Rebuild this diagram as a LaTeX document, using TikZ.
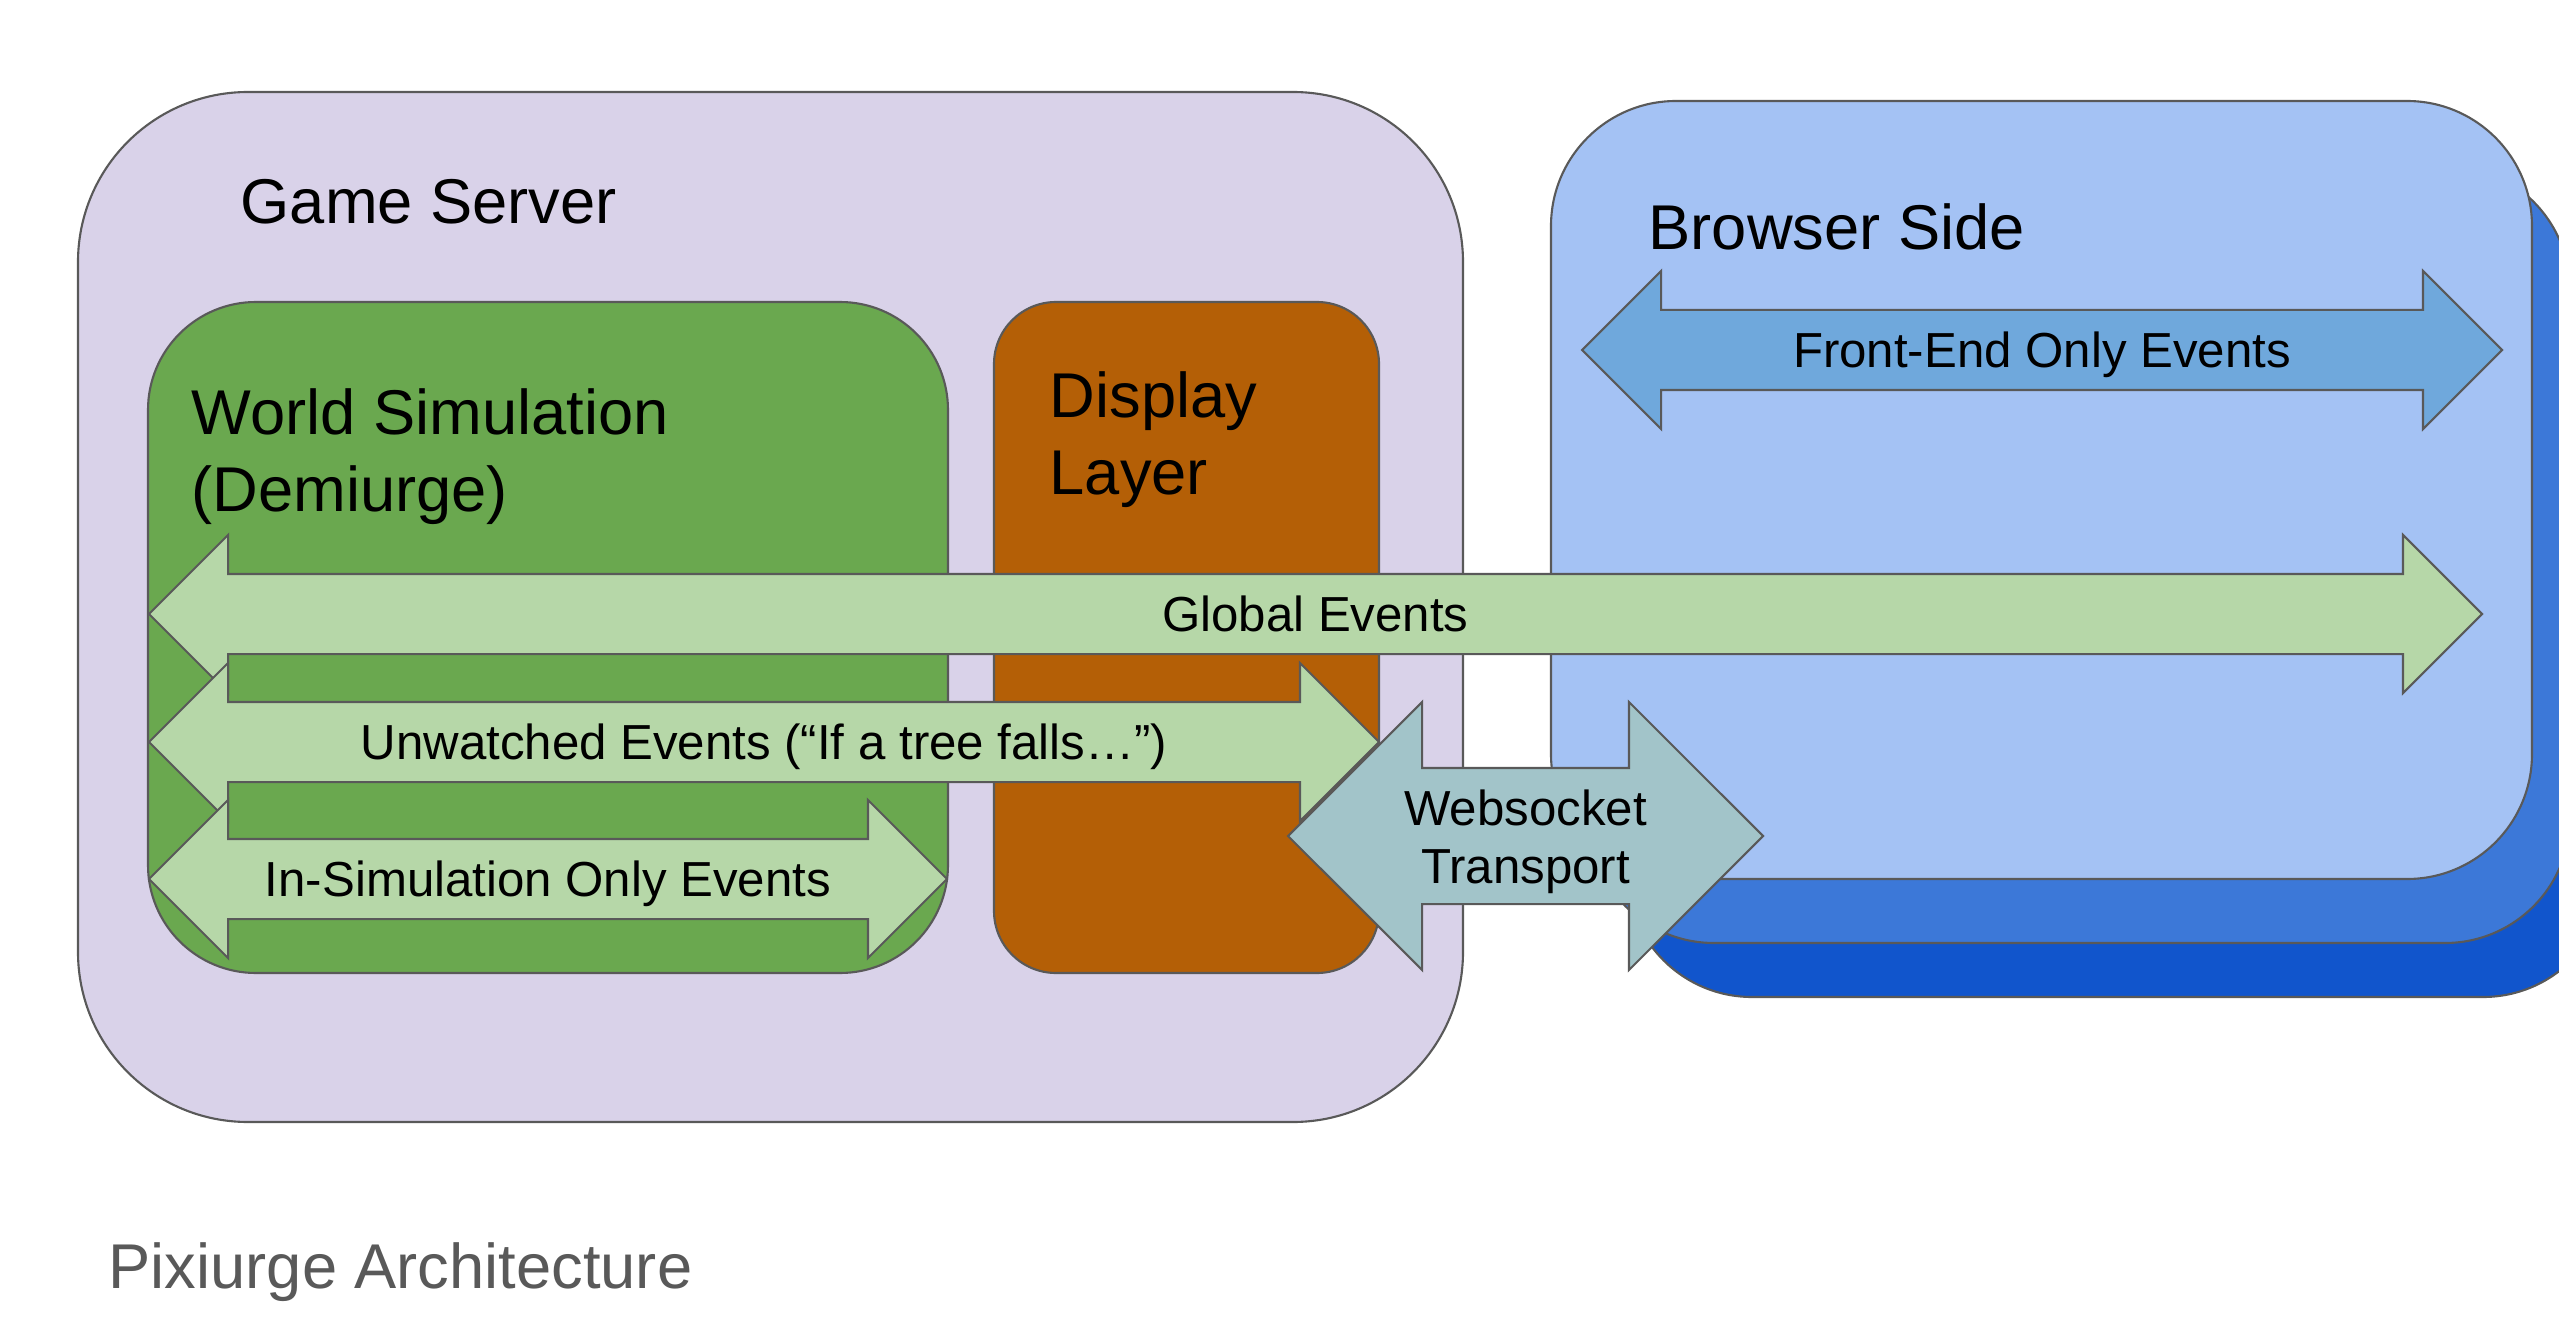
\documentclass[tikz,border=0pt]{standalone}
\usepackage{fontspec}
\setmainfont{Liberation Sans}
\usetikzlibrary{shapes.arrows,positioning}

\definecolor{serverfill}{HTML}{D9D2E9}
\definecolor{simfill}{HTML}{6AA84F}
\definecolor{displayfill}{HTML}{B45F06}
\definecolor{browserfill}{HTML}{A4C2F4}
\definecolor{browsermid}{HTML}{3C78D8}
\definecolor{browserdark}{HTML}{1155CC}
\definecolor{eventfill}{HTML}{B6D7A8}
\definecolor{frontfill}{HTML}{6FA8DC}
\definecolor{socketfill}{HTML}{A2C4C9}
\definecolor{edgegray}{HTML}{595959}

\begin{document}
\begin{tikzpicture}[
    panel/.style={draw=edgegray, line width=0.6pt, rectangle, inner sep=0pt},
    evtext/.style={font=\fontsize{14}{16.5}\selectfont},
    evarrow/.style={draw=edgegray, line width=0.6pt, double arrow, double arrow tip angle=90,
        double arrow head extend=0.39cm, inner xsep=0pt, inner ysep=0.39cm-5pt,
        text height=10pt, text depth=0pt, fill=eventfill, evtext},
    heading/.style={anchor=base west, inner sep=0pt, font=\fontsize{18}{22}\selectfont},
    caption/.style={anchor=base west, inner sep=0pt, text=edgegray, font=\fontsize{18}{22}\selectfont},
]
\useasboundingbox (0,0) rectangle (25.59,13.18);

% Game server side
\node[panel, fill=serverfill, minimum width=13.85cm, minimum height=10.30cm, rounded corners=1.7cm] (gs) at (7.705, 7.11) {};
\node[heading] (gstitle) at (2.40, 10.95) {Game Server};

\node[panel, fill=simfill, minimum width=8.00cm, minimum height=6.71cm, rounded corners=1.08cm] (ws) at (5.48, 6.805) {};
\node[heading, anchor=north west, align=left] (wstitle) at (1.91, 9.30) {World Simulation\\(Demiurge)};

\node[panel, fill=displayfill, minimum width=3.85cm, minimum height=6.71cm, rounded corners=0.62cm] (dl) at (11.865, 6.805) {};
\node[heading, anchor=north west, align=left] (dltitle) at (10.49, 9.47) {Display\\Layer};

% Browser side (stacked)
\node[panel, fill=browserdark, minimum width=9.81cm, minimum height=7.78cm, rounded corners=1.25cm] (bs3) at (21.175, 7.10) {};
\node[panel, fill=browsermid, minimum width=9.81cm, minimum height=7.78cm, rounded corners=1.25cm] (bs2) at (20.795, 7.64) {};
\node[panel, fill=browserfill, minimum width=9.81cm, minimum height=7.78cm, rounded corners=1.25cm] (bs) at (20.415, 8.28) {};
\node[heading] (bstitle) at (16.48, 10.68) {Browser Side};

% Events
\node[evarrow, fill=frontfill, minimum height=9.20cm] (fe) at (20.42, 9.68) {Front-End Only Events};
\node[evarrow, minimum height=23.33cm] (ge) at (13.155, 7.04) {Global Events};
\node[evarrow, minimum height=12.30cm] (uw) at (7.64, 5.76) {Unwatched Events (“If a tree falls…”)};
\node[evarrow, minimum height=7.98cm] (insim) at (5.48, 4.39) {In-Simulation Only Events};

% Transport
\node[evarrow, fill=socketfill, text height=0pt, inner ysep=0.67cm, double arrow head extend=0.66cm, minimum height=4.75cm] (wt) at (15.255, 4.82) {};
\node[evtext, align=center, inner sep=0pt, yshift=-0.6mm] (wttext) at (wt) {Websocket\\Transport};

\node[caption] (caption) at (1.08, 0.30) {Pixiurge Architecture};

\end{tikzpicture}
\end{document}
